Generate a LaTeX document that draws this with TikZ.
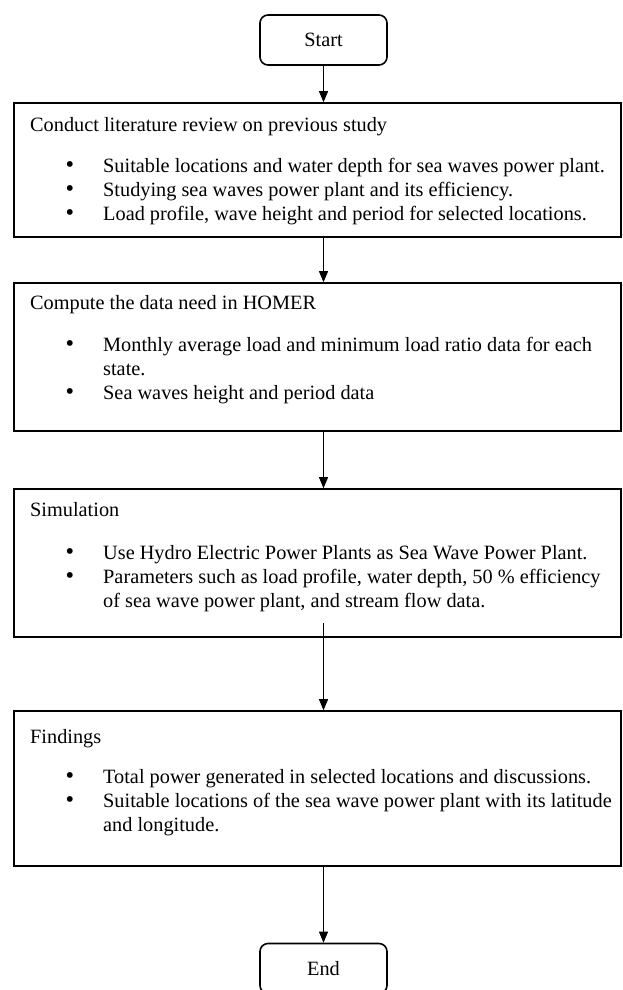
\documentclass[tikz,border=0pt]{standalone}
\usepackage{fontspec}
\setmainfont{Liberation Serif}
\usepackage{tikz}
\usetikzlibrary{arrows.meta}

\tikzset{
	stepbox/.style = {draw, line width = 1.6pt, minimum width = 607pt, inner sep = 0pt},
	termbox/.style = {draw, line width = 1.6pt, rounded corners = 8pt, minimum width = 127pt, minimum height = 50pt},
	flow/.style = {-{Triangle[length = 11pt, width = 9pt]}, line width = 0.8pt},
	steptext/.style = {anchor = base west, inner sep = 0pt},
	dot/.style = {anchor = base, inner sep = 0pt, scale = 1.2}
}

\begin{document}
\begin{tikzpicture}[x = 1pt, y = 1pt, font = \fontsize{20.3}{24}\selectfont]
	\useasboundingbox (0, 0) rectangle (622, -990);
	% terminals and steps
	\node[termbox] (start) at (323.5, -40) {Start};
	\node[stepbox, minimum height = 134pt] (review) at (317.5, -170) {};
	\node[stepbox, minimum height = 148pt] (homer) at (317.5, -357) {};
	\node[stepbox, minimum height = 148pt] (sim) at (317.5, -563) {};
	\node[stepbox, minimum height = 155pt] (find) at (317.5, -788.5) {};
	\node[termbox] (end) at (323.5, -968.5) {End};
	% headings
	\foreach \name/\y/\txt in {reviewhead/131/Conduct literature review on previous study,
		homerhead/309/Compute the data need in HOMER, simhead/516/Simulation, findhead/743/Findings}{
		\node[steptext] (\name) at (30, -\y) {\txt};}
	% bullets
	\foreach \y in {172, 196, 220, 351, 399, 559, 583, 783, 807}{
		\node[dot] (dot\y) at (70, -\y) {\textbullet};}
	\foreach \y/\txt in {172/Suitable locations and water depth for sea waves power plant.,
		196/Studying sea waves power plant and its efficiency.,
		220/{Load profile, wave height and period for selected locations.},
		351/Monthly average load and minimum load ratio data for each,
		375/state.,
		399/Sea waves height and period data,
		559/Use Hydro Electric Power Plants as Sea Wave Power Plant.,
		583/{Parameters such as load profile, water depth, 50 \% efficiency},
		607/{of sea wave power plant, and stream flow data.},
		783/Total power generated in selected locations and discussions.,
		807/Suitable locations of the sea wave power plant with its latitude,
		831/and longitude.}{
		\node[steptext] (item\y) at (103, -\y) {\txt};}
	% connectors
	\draw[flow] (start.south) -- (start.south |- review.north);
	\draw[flow] (start.south |- review.south) -- (start.south |- homer.north);
	\draw[flow] (start.south |- homer.south) -- (start.south |- sim.north);
	\draw[flow] ([yshift = 15pt]start.south |- sim.south) -- (start.south |- find.north);
	\draw[flow] (start.south |- find.south) -- (end.north);
\end{tikzpicture}
\end{document}
